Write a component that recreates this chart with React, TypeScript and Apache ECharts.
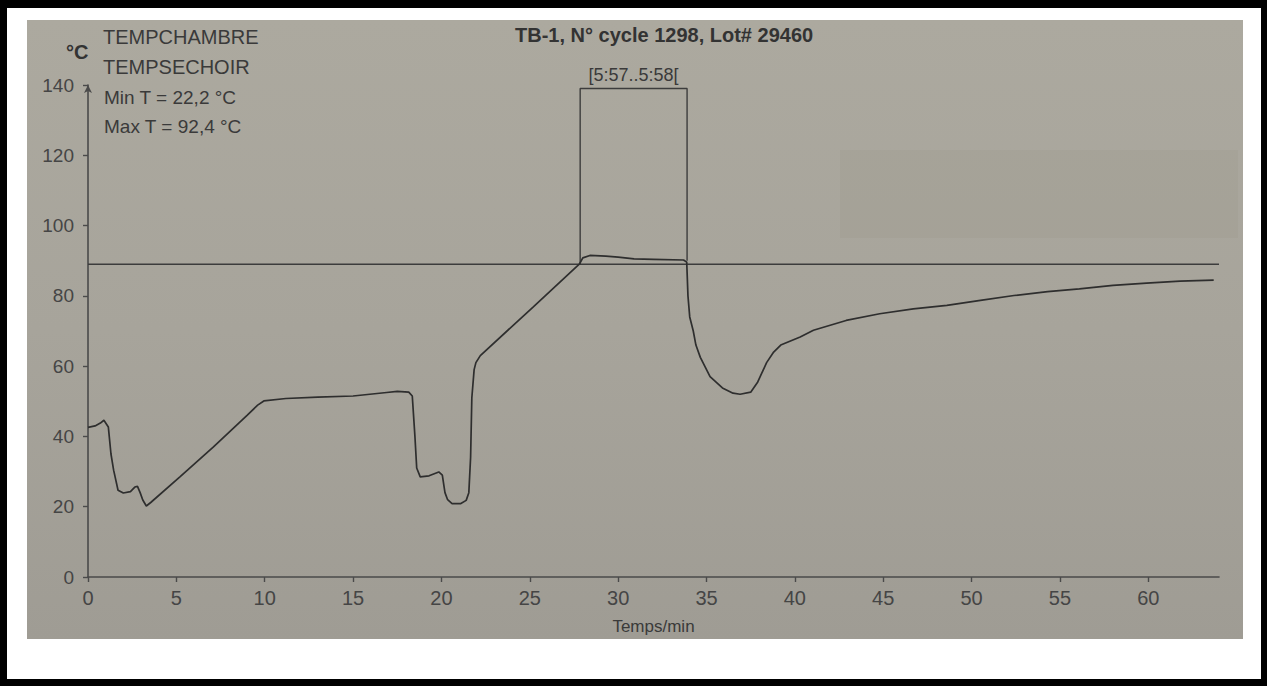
import React, { useEffect, useRef } from "react";
import * as echarts from "echarts";

const TITLE = "TB-1, N° cycle 1298, Lot# 29460";
const WINDOW_LABEL = "[5:57..5:58[";
const MIN_LABEL = "Min T = 22,2 °C";
const MAX_LABEL = "Max T = 92,4 °C";
const xTicks = [0, 5, 10, 15, 20, 25, 30, 35, 40, 45, 50, 55, 60];

const chambreTime = [0, 0.4, 0.7, 0.9, 1.15, 1.3, 1.45, 1.7, 2.0, 2.4, 2.65, 2.8, 2.95, 3.1, 3.3, 3.55, 5.2, 7.1, 9.0, 9.6, 9.95, 11.2, 13, 15, 16.9, 17.5, 18.15, 18.35, 18.5, 18.6, 18.8, 19.3, 19.85, 20.05, 20.2, 20.35, 20.6, 21.1, 21.4, 21.55, 21.65, 21.72, 21.85, 21.95, 22.2, 25.2, 27.8, 28.0, 28.4, 29.3, 30.0, 30.9, 32.0, 33.7, 33.88, 33.95, 34.05, 34.25, 34.4, 34.65, 35.2, 35.9, 36.5, 36.9, 37.5, 37.9, 38.4, 38.8, 39.2, 40.3, 41.05, 42.9, 44.8, 46.7, 48.6, 50.5, 52.4, 54.3, 56.1, 58.0, 59.9, 61.8, 63.7];
const chambreTemp = [42.6, 43, 43.8, 44.6, 42.7, 35, 30.4, 24.7, 23.9, 24.3, 25.6, 25.8, 24, 21.9, 20.2, 21.2, 28.5, 37.0, 46.0, 48.9, 50.1, 50.8, 51.2, 51.5, 52.5, 52.8, 52.6, 51.5, 40, 31, 28.5, 28.8, 29.9, 29, 24, 22, 20.9, 20.9, 21.8, 24, 34, 51, 59, 61, 63, 76.9, 89, 90.8, 91.5, 91.3, 91, 90.5, 90.4, 90.2, 89.6, 80, 74, 70, 66, 62.5, 57, 53.8, 52.3, 52, 52.6, 55.5, 61, 64, 66, 68.3, 70.2, 73, 74.9, 76.3, 77.3, 78.7, 80.1, 81.2, 82, 83, 83.6, 84.2, 84.5];

const sechoirTime = [0, 64];
const sechoirTemp = [89, 89];

const boxTime = [27.85, 27.85, 30.87, 33.9, 33.9];
const boxTemp = [89, 139, 139, 139, 90];
const boxLabelIndex = 2;

const INK = "#3a3a3a";
const FONT = "'Liberation Sans Narrow', 'Liberation Sans', Arial, sans-serif";

export default function App() {
  const ref = useRef<HTMLDivElement>(null);

  useEffect(() => {
    if (!ref.current) return;
    const chart = echarts.init(ref.current, null, { renderer: "svg" });
    const chambre = chambreTime.map((t, i) => [t, chambreTemp[i]]);
    const sechoir = sechoirTime.map((t, i) => [t, sechoirTemp[i]]);
    const box = boxTime.map((t, i) => [t, boxTemp[i]]);

    const staticGraphics: any[] = [
      {
        id: "unit",
        type: "text",
        left: 66,
        top: 42,
        style: { text: "°C", fontSize: 20, fontWeight: "bold", fill: "#333", fontFamily: FONT },
      },
      {
        id: "minT",
        type: "text",
        left: 104,
        top: 88,
        style: { text: MIN_LABEL, fontSize: 19, fill: INK, fontFamily: FONT },
      },
      {
        id: "maxT",
        type: "text",
        left: 104,
        top: 117,
        style: { text: MAX_LABEL, fontSize: 19, fill: INK, fontFamily: FONT },
      },
    ];

    chart.setOption({
      animation: false,
      backgroundColor: "transparent",
      textStyle: { fontFamily: FONT },
      title: {
        text: TITLE,
        left: 510,
        top: 20,
        textStyle: { fontSize: 20, fontWeight: "bold", color: "#333", fontFamily: FONT },
      },
      legend: {
        data: ["TEMPCHAMBRE", "TEMPSECHOIR"],
        orient: "vertical",
        left: 91,
        top: 22,
        icon: "none",
        itemWidth: 2,
        itemHeight: 14,
        itemGap: 10,
        selectedMode: false,
        textStyle: { fontSize: 20, color: INK, fontFamily: FONT },
      },
      grid: { left: 88, right: 48, top: 85, bottom: 109, containLabel: false, outerBoundsMode: "none" },
      xAxis: [
        {
          type: "value",
          splitLine: { show: false },
          min: 0,
          max: 64,
          interval: 5,
          name: "Temps/min",
          nameLocation: "middle",
          nameGap: 41,
          nameTextStyle: { fontSize: 17, color: INK, fontFamily: FONT },
          axisLine: { show: true, onZero: false, lineStyle: { color: "#4a4a4a", width: 1.6 } },
          axisTick: { show: true, length: 5, customValues: xTicks, lineStyle: { color: "#4a4a4a", width: 1.4 } },
          axisLabel: { customValues: xTicks, margin: 11, fontSize: 20, color: "#454545", fontFamily: FONT },
        },
      ],
      yAxis: [
        {
          type: "value",
          splitLine: { show: false },
          min: 0,
          max: 140,
          interval: 20,
          axisLine: {
            show: true,
            onZero: false,
            symbol: ["none", "arrow"],
            symbolSize: [6, 8],
            lineStyle: { color: "#4a4a4a", width: 1.6 },
          },
          axisTick: { show: true, length: 5, lineStyle: { color: "#4a4a4a", width: 1.4 } },
          axisLabel: { margin: 14, fontSize: 19, color: "#454545", fontFamily: FONT },
        },
      ],
      graphic: staticGraphics,
      series: [
        {
          name: "TEMPCHAMBRE",
          type: "line",
          data: chambre,
          symbol: "none",
          lineStyle: { color: "#2e2e2e", width: 1.7 },
          itemStyle: { color: "#2e2e2e" },
          z: 3,
        },
        {
          name: "TEMPSECHOIR",
          type: "line",
          data: sechoir,
          symbol: "none",
          lineStyle: { color: "#3c3c3c", width: 1.5 },
          itemStyle: { color: "#3c3c3c" },
          z: 2,
        },
        {
          name: "window",
          type: "line",
          data: box,
          symbol: "none",
          lineStyle: { color: "#3c3c3c", width: 1.4 },
          itemStyle: { color: "#3c3c3c" },
          z: 2,
        },
      ],
    });

    const p = chart.convertToPixel({ gridIndex: 0 }, [boxTime[boxLabelIndex], boxTemp[boxLabelIndex]]) as number[];
    if (p && isFinite(p[0]) && isFinite(p[1])) {
      chart.setOption({
        graphic: [
          ...staticGraphics,
          {
            id: "windowLabel",
            type: "text",
            x: p[0],
            y: p[1] - 5,
            style: {
              text: WINDOW_LABEL,
              fontSize: 18,
              fill: INK,
              fontFamily: FONT,
              align: "center",
              verticalAlign: "bottom",
            },
          },
        ],
      });
    }
    return () => chart.dispose();
  }, []);

  return (
    <div style={{ position: "fixed", left: 0, top: 0, width: 1267, height: 686, background: "#000", overflow: "hidden" }}>
      <div style={{ position: "absolute", left: 7, top: 8, width: 1267 - 13, height: 686 - 15, background: "#fff" }} />
      <div
        style={{
          position: "absolute",
          left: 27,
          top: 20,
          width: 1216,
          height: 619,
          background: "linear-gradient(180deg, #aca99f 0%, #a7a49b 50%, #9f9c94 100%)",
        }}
      />
      <div
        style={{
          position: "absolute",
          left: 840,
          top: 150,
          width: 398,
          height: 88,
          background: "rgba(150,143,126,0.15)",
        }}
      />
      <div ref={ref} style={{ position: "absolute", left: 0, top: 0, width: 1267, height: 686 }} />
    </div>
  );
}
